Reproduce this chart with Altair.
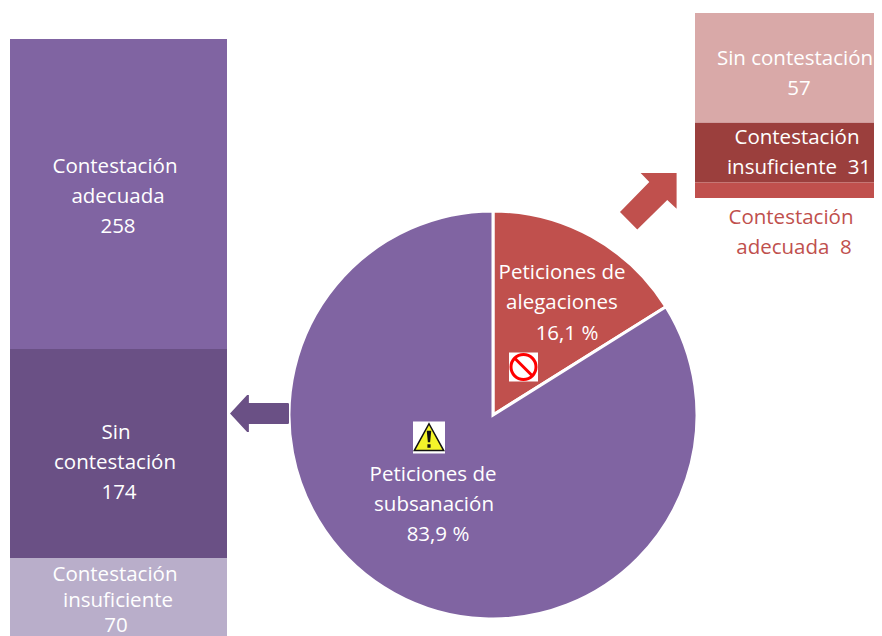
import altair as alt
import pandas as pd

pie_names = ["Peticiones de alegaciones", "Peticiones de subsanación"]
pie_values = [16.1, 83.9]
pie_colors = ["#C0504D", "#8064A2"]

left_names = ["Contestación adecuada", "Sin contestación", "Contestación insuficiente"]
left_values = [258, 174, 70]
left_colors = ["#8064A2", "#6A5085", "#B9AECA"]

right_names = ["Sin contestación", "Contestación insuficiente", "Contestación adecuada"]
right_values = [57, 31, 8]
right_colors = ["#D9A9A8", "#9B3F3D", "#C0504D"]

FONT = "Open Sans"
FS = 20.5
OX, OY = 8, 8
NB = "\u00a0"


def frame(names, values):
    df = pd.DataFrame({"name": names, "value": values, "rank": range(len(names))})
    df["end"] = df["value"].cumsum()
    df["start"] = df["end"] - df["value"]
    return df


def stack_bar(names, values, colors, x0, x1, y0, y1):
    return alt.Chart(frame(names, values)).mark_rect(clip=True).encode(
        x=alt.value(x0 - OX),
        x2=alt.value(x1 - OX),
        y=alt.Y("start:Q", scale=alt.Scale(domain=[0, sum(values)], range=[y0 - OY, y1 - OY]), axis=None),
        y2="end:Q",
        color=alt.Color("name:N", scale=alt.Scale(domain=names, range=colors), legend=None),
    )


def label(text, x, y, color="white", line_height=30.3, size=FS):
    return alt.Chart(pd.DataFrame({"t": [text]})).mark_text(
        font=FONT, fontSize=size, color=color, align="center", baseline="middle",
        lineBreak="\n", lineHeight=line_height,
    ).encode(x=alt.value(x - OX), y=alt.value(y - OY), text="t:N")


def shape(path, x, y, box, color, stroke=None, sw=0, filled=True):
    kw = dict(shape=path, size=box * box, filled=filled, opacity=1)
    if filled:
        kw["fill"] = color
        kw["strokeWidth"] = 0
    if stroke:
        kw["stroke"] = stroke
        kw["strokeWidth"] = sw
    return alt.Chart(pd.DataFrame({"a": [0]})).mark_point(**kw).encode(
        x=alt.value(x - OX), y=alt.value(y - OY))


pie = alt.Chart(frame(pie_names, pie_values)).mark_arc(
    radius=204, stroke="white", strokeWidth=3
).encode(
    x=alt.value(493 - OX),
    y=alt.value(415 - OY),
    theta=alt.Theta("value:Q", stack="zero", scale=alt.Scale(domain=[0, 100], range=[0, 6.28318531])),
    order=alt.Order("rank:Q"),
    color=alt.Color("name:N", scale=alt.Scale(domain=pie_names, range=pie_colors), legend=None),
)

left_arrow = "M-1,0L-0.42,-0.63L-0.36,-0.63L-0.36,-0.36L0.97,-0.36L1,-0.33L1,0.33L0.97,0.36L-0.36,0.36L-0.36,0.63L-0.42,0.63Z"
right_arrow = "M1,-1L-0.27,-1L0.036,-0.68L-1,0.378L-0.39,1L0.67,-0.046L1,0.26Z"
triangle = "M0,-0.86L0.92,0.82L-0.92,0.82Z"
excl = "M-0.14,-0.42L0.14,-0.42L0.07,0.3L-0.07,0.3Z M-0.1,0.42L0.1,0.42L0.1,0.64L-0.1,0.64Z"
slash = "M-0.68,-0.68L0.68,0.68"

layers = [
    stack_bar(left_names, left_values, left_colors, 10, 227, 39, 642),
    stack_bar(right_names, right_values, right_colors, 695, 882, 13, 198),
    pie,
    shape(left_arrow, 259.5, 413.5, 59, "#6A5085"),
    shape(right_arrow, 648.3, 201.3, 56.6, "#C0504D"),
    # no-entry icon
    shape("square", 523.5, 367, 29, "white"),
    shape("circle", 523.5, 367, 25, "white", stroke="#FF0000", sw=3, filled=False),
    shape(slash, 523.5, 367, 25, "white", stroke="#FF0000", sw=3, filled=False),
    # warning icon
    shape("square", 429, 437.5, 32, "white"),
    shape(triangle, 429, 437.5, 32, "#F4F42A", stroke="#111111", sw=1.5),
    shape(excl, 429, 437.5, 32, "#111111"),
    # labels
    label("Contestación", 115, 167),
    label("adecuada", 118, 197),
    label(f"{left_values[0]}", 118, 227),
    label("Sin", 116, 433),
    label("contestación", 115, 463),
    label(f"{left_values[1]}", 119, 493),
    label("Contestación", 115, 575),
    label("insuficiente", 118, 601),
    label(f"{left_values[2]}", 116, 626),
    label(right_names[0], 795, 59),
    label(f"{right_values[0]}", 799, 89),
    label("Contestación", 797, 138),
    label(f"insuficiente{NB} {right_values[1]}", 799, 168),
    label("Contestación", 791, 218, color="#C0504D"),
    label(f"adecuada{NB} {right_values[2]}", 794, 248, color="#C0504D"),
    label("Peticiones de", 562, 273),
    label("alegaciones", 562, 303),
    label("16,1 %", 567, 334),
    label("Peticiones de", 433, 475),
    label("subsanación", 434, 505),
    label("83,9 %", 438, 535),
]

chart = alt.layer(*layers).resolve_scale(y="independent", color="independent", theta="independent").properties(
    width=866, height=628, padding=0,
    autosize=alt.AutoSizeParams(type="none"),
    background="white",
).configure_view(stroke=None)

chart.save("out.html", embed_options={"renderer": "svg", "actions": False})
